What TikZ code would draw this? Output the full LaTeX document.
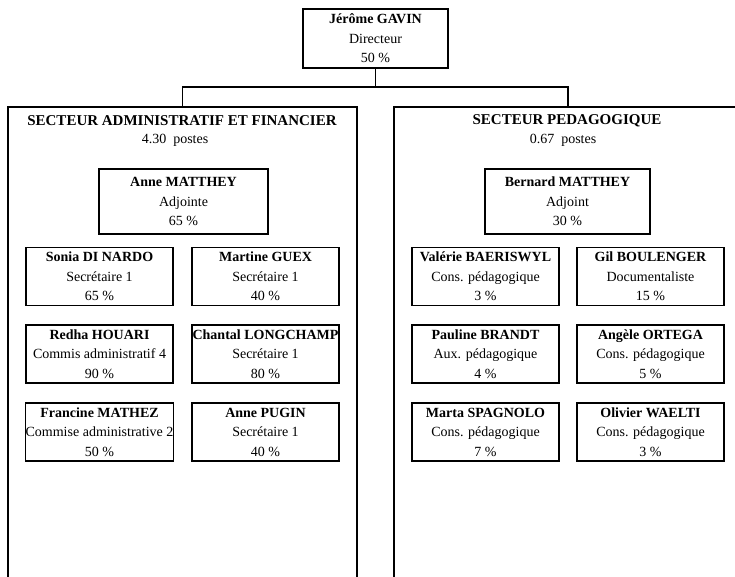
\documentclass[tikz,border=0pt]{standalone}
\usepackage{fontspec}
\setmainfont{Liberation Serif}
\begin{document}
\begin{tikzpicture}[x=1pt,y=-1pt,
  every node/.style={inner sep=0pt, outer sep=0pt},
  card/.style={draw=black, line width=1.3pt, minimum width=147pt, minimum height=58pt,
    align=center, font=\fontsize{14}{19.5}\selectfont},
  headcard/.style={card, minimum height=65pt},
  sector/.style={draw=black, line width=1.5pt, minimum width=349pt, minimum height=490pt},
  sectitle/.style={font=\fontsize{15}{19}\selectfont\bfseries},
  secsub/.style={font=\fontsize{14}{19}\selectfont},
  link/.style={draw=black, line width=1.3pt}]
\useasboundingbox (0,0) rectangle (735,576);
\clip (0,0) rectangle (735,576);

% director
\node[card, minimum width=145pt, minimum height=59pt] (dir) at (375.5,38.5)
  {\textbf{Jérôme GAVIN}\\Directeur\\50~\%};

% sectors
\node[sector] (adm) at (182.5,352) {};
\node[sector, minimum width=348pt] (ped) at (568,352) {};

\draw[link] (dir.south) -- ++(0,19) coordinate (fork);
\draw[link] (adm.north) |- (fork) -| (ped.north);

\node[sectitle] (admtitle) at (182,121) {SECTEUR ADMINISTRATIF ET FINANCIER};
\node[secsub] (admposts) at (175,140) {4.30~~postes};
\node[sectitle] (pedtitle) at (567,121) {SECTEUR PEDAGOGIQUE};
\node[secsub] (pedposts) at (563,140) {0.67~~postes};

% deputies
\node[headcard, minimum width=169pt] (anne) at (183.5,201.5)
  {\textbf{Anne MATTHEY}\\Adjointe\\65~\%};
\node[headcard, minimum width=165pt] (bernard) at (567.5,201.5)
  {\textbf{Bernard MATTHEY}\\Adjoint\\30~\%};

% administrative staff
\node[card] (sonia) at (99.5,276.5) {\textbf{Sonia DI NARDO}\\Secrétaire 1\\65~\%};
\node[card] (martine) at (265.5,276.5) {\textbf{Martine GUEX}\\Secrétaire 1\\40~\%};
\node[card] (redha) at (99.5,354) {\textbf{Redha HOUARI}\\Commis administratif 4\\90~\%};
\node[card] (chantal) at (265.5,354) {\textbf{Chantal LONGCHAMP}\\Secrétaire 1\\80~\%};
\node[card] (francine) at (99.5,432) {\textbf{Francine MATHEZ}\\Commise administrative 2\\50~\%};
\node[card] (pugin) at (265.5,432) {\textbf{Anne PUGIN}\\Secrétaire 1\\40~\%};

% pedagogical staff
\node[card] (valerie) at (485.5,276.5) {\textbf{Valérie BAERISWYL}\\Cons. pédagogique\\3~\%};
\node[card] (gil) at (650.5,276.5) {\textbf{Gil BOULENGER}\\Documentaliste\\15~\%};
\node[card] (pauline) at (485.5,354) {\textbf{Pauline BRANDT}\\Aux. pédagogique\\4~\%};
\node[card] (angele) at (650.5,354) {\textbf{Angèle ORTEGA}\\Cons. pédagogique\\5~\%};
\node[card] (marta) at (485.5,432) {\textbf{Marta SPAGNOLO}\\Cons. pédagogique\\7~\%};
\node[card] (olivier) at (650.5,432) {\textbf{Olivier WAELTI}\\Cons. pédagogique\\3~\%};
\end{tikzpicture}
\end{document}
